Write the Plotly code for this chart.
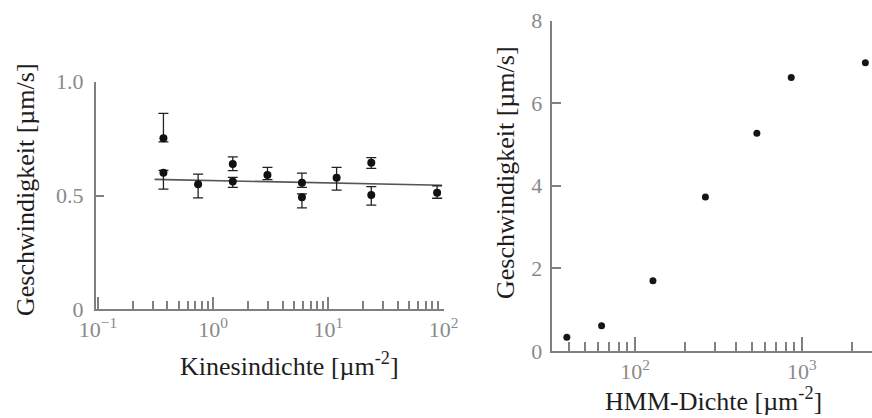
import plotly.graph_objects as go

# Kinesin gliding speed vs. surface density (log x)
kin_density = [0.37, 0.37, 0.74, 1.48, 1.48, 2.96, 5.9, 5.9, 11.8, 23.6, 23.6, 88]
kin_speed = [0.752, 0.600, 0.549, 0.638, 0.561, 0.590, 0.556, 0.492, 0.578, 0.644, 0.502, 0.512]
kin_err_plus = [0.109, 0.010, 0.045, 0.032, 0.019, 0.034, 0.042, 0.015, 0.046, 0.022, 0.037, 0.030]
kin_err_minus = [0.016, 0.072, 0.059, 0.029, 0.025, 0.020, 0.020, 0.046, 0.054, 0.025, 0.044, 0.024]

# Fitted trend line through the kinesin data
fit_density = [0.31, 97]
fit_speed = [0.571, 0.545]

# HMM gliding speed vs. surface density (log x)
hmm_density = [39, 63, 128, 264, 537, 863, 2400]
hmm_speed = [0.33, 0.61, 1.70, 3.73, 5.27, 6.62, 6.98]

# Axis tick labels
kin_xticks = [0.1, 1, 10, 100]
kin_xticktext = ["10<sup>−1</sup>", "10<sup>0</sup>", "10<sup>1</sup>", "10<sup>2</sup>"]
kin_xminor = [0.2, 0.3, 0.4, 0.5, 0.6, 0.7, 0.8, 0.9,
              2, 3, 4, 5, 6, 7, 8, 9,
              20, 30, 40, 50, 60, 70, 80, 90]
kin_yticks = [0, 0.5, 1.0]
kin_yticktext = ["0", "0.5", "1.0"]

hmm_xticks = [100, 1000]
hmm_xticktext = ["10<sup>2</sup>", "10<sup>3</sup>"]
hmm_xminor = [40, 50, 60, 70, 80, 90,
              200, 300, 400, 500, 600, 700, 800, 900, 2000]
hmm_yticks = [0, 2, 4, 6, 8]

W, H = 872, 418
SERIF = "Liberation Serif, Times New Roman, serif"
AXIS_GREY = "#808080"
TICK_FONT = dict(family=SERIF, size=22, color="#8a8a8a")
TITLE_FONT = dict(family=SERIF, size=26, color="#1e1e1e")

fig = go.Figure()

fig.add_trace(go.Scatter(
    x=fit_density, y=fit_speed, mode="lines",
    line=dict(color="#555555", width=1.6),
    xaxis="x", yaxis="y", showlegend=False, hoverinfo="skip",
))
fig.add_trace(go.Scatter(
    x=kin_density, y=kin_speed, mode="markers",
    marker=dict(color="#111111", size=8),
    error_y=dict(type="data", symmetric=False, array=kin_err_plus,
                 arrayminus=kin_err_minus, color="#222222",
                 thickness=1.3, width=5),
    xaxis="x", yaxis="y", showlegend=False,
))
fig.add_trace(go.Scatter(
    x=hmm_density, y=hmm_speed, mode="markers",
    marker=dict(color="#151515", size=7),
    xaxis="x2", yaxis="y2", showlegend=False,
))

def px_x(p):
    return p / W

def px_y(p):
    return 1 - p / H

common = dict(showline=True, linecolor=AXIS_GREY, linewidth=1.5,
              showgrid=False, zeroline=False, ticks="inside", automargin=False,
              tickcolor=AXIS_GREY, tickwidth=1.5, tickfont=TICK_FONT)

fig.update_layout(
    width=W, height=H, autosize=False,
    margin=dict(l=0, r=0, t=0, b=0),
    paper_bgcolor="white", plot_bgcolor="white",
    xaxis=dict(common, type="log", range=[-1.02, 2.0],
               domain=[px_x(95.7), px_x(443.5)], anchor="y",
               tickmode="array", tickvals=kin_xticks, ticktext=kin_xticktext,
               ticklen=13, ticklabelstandoff=0,
               minor=dict(tickmode="array", tickvals=kin_xminor, ticks="inside",
                          ticklen=9, tickcolor=AXIS_GREY, tickwidth=1.5)),
    yaxis=dict(common, range=[0, 1.0],
               domain=[px_y(309.3), px_y(81.7)], anchor="x",
               tickmode="array", tickvals=kin_yticks, ticktext=kin_yticktext,
               ticklen=9, ticklabelstandoff=6),
    xaxis2=dict(common, type="log", range=[1.504, 3.42],
                domain=[px_x(552.3), 1.0], anchor="y2",
                tickmode="array", tickvals=hmm_xticks, ticktext=hmm_xticktext,
                ticklen=14, ticklabelstandoff=0,
                minor=dict(tickmode="array", tickvals=hmm_xminor, ticks="inside",
                           ticklen=9, tickcolor=AXIS_GREY, tickwidth=1.5)),
    yaxis2=dict(common, range=[0, 8],
                domain=[px_y(351), px_y(20.5)], anchor="x2",
                tickmode="array", tickvals=hmm_yticks,
                ticklen=9, ticklabelstandoff=4),
)

# Axis titles: (text, x px, y px, angle, vertical anchor)
annotations = [
    ("Geschwindigkeit [µm/s]", 25, 190, -90, "middle"),
    ("Kinesindichte [µm<sup>-2</sup>]", 289, 364, 0, "middle"),
    ("Geschwindigkeit [µm/s]", 505, 173, -90, "middle"),
    ("HMM-Dichte [µm<sup>-2</sup>]", 713, 418, 0, "bottom"),
]
for text, x, y, angle, yanchor in annotations:
    fig.add_annotation(text=text, x=px_x(x), y=px_y(y), xref="paper", yref="paper",
                       xanchor="center", yanchor=yanchor, textangle=angle,
                       showarrow=False, font=TITLE_FONT)

fig.write_html("out.html")
